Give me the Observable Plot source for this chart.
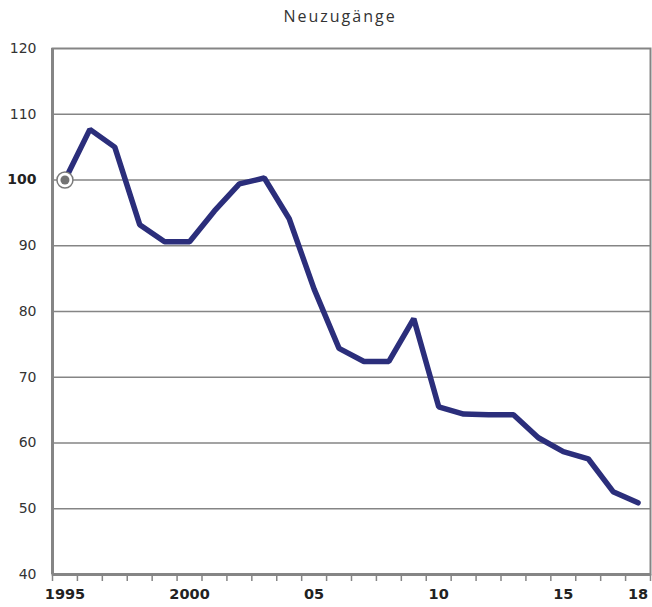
<!DOCTYPE html>
<html>
<head>
<meta charset="utf-8">
<script src="https://cdn.jsdelivr.net/npm/d3@7"></script>
<script src="https://cdn.jsdelivr.net/npm/@observablehq/plot@0.6"></script>
<style>
  body { margin: 0; background: #fff; }
  #wrap { position: relative; width: 652px; height: 607px; }
  #title { position: absolute; left: 0; top: 5px; width: 680px; text-align: center;
           font: 16px "Open Sans", sans-serif; letter-spacing: 2px; color: #333; }
  #chart { position: absolute; left: 0; top: 0; }
</style>
</head>
<body>
<div id="wrap">
  <div id="chart"></div>
  <div id="title">Neuzugänge</div>
</div>
<script>
const years = [1995,1996,1997,1998,1999,2000,2001,2002,2003,2004,2005,2006,2007,2008,2009,2010,2011,2012,2013,2014,2015,2016,2017,2018];
const values = [100,107.7,105.0,93.2,90.6,90.6,95.3,99.4,100.3,94.1,83.4,74.4,72.4,72.4,78.9,65.5,64.4,64.3,64.3,60.8,58.7,57.6,52.6,50.9];
const yTicks = [40,50,60,70,80,90,100,110,120];
const xLabelYears = [1995,2000,2005,2010,2015,2018];
const xLabelTexts = ["1995","2000","05","10","15","18"];

const data = years.map((y, i) => ({year: y, value: values[i]}));
const tickPositions = [...years.map(y => y - 0.5), years[years.length - 1] + 0.5];
const gridValues = yTicks.filter(v => v > 40 && v < 120);
const labelMap = new Map(xLabelYears.map((y, i) => [y, xLabelTexts[i]]));

const grey = "#858585";
const chart = Plot.plot({
  width: 652,
  height: 607,
  marginTop: 48,
  marginLeft: 52,
  marginRight: 2,
  marginBottom: 33,
  style: {fontFamily: "DejaVu Sans", color: "#333", background: "#fff"},
  x: {domain: [years[0] - 0.5, years[years.length - 1] + 0.5], axis: null},
  y: {domain: [40, 120], axis: null},
  marks: [
    Plot.ruleY(gridValues, {stroke: grey, strokeWidth: 1.5}),
    Plot.frame({stroke: grey, strokeWidth: 2}),
    Plot.ruleX([years[0] - 0.5], {stroke: grey, strokeWidth: 3}),
    Plot.ruleY([40], {stroke: grey, strokeWidth: 3}),
    Plot.axisX({ticks: tickPositions, tickSize: 7, tickFormat: () => "", label: null, stroke: grey, strokeWidth: 1.5}),
    Plot.axisX({ticks: xLabelYears, tickSize: 0, tickPadding: 14, tickFormat: d => labelMap.get(d), label: null,
      fontSize: 14.5, fontWeight: "bold", fill: "#222"}),
    Plot.text(yTicks.filter(v => v !== 100), {y: d => d, text: d => String(d), frameAnchor: "left",
      textAnchor: "end", dx: -16, fontSize: 14, fill: "#333"}),
    Plot.text([100], {y: d => d, text: d => String(d), frameAnchor: "left",
      textAnchor: "end", dx: -16, fontSize: 14, fontWeight: "bold", fill: "#222"}),
    Plot.line(data, {x: "year", y: "value", stroke: "#2b2e7b", strokeWidth: 5.5, strokeLinejoin: "miter"}),
    Plot.dot([data[0]], {x: "year", y: "value", r: 8, fill: "#fff", stroke: "#7a7a7a", strokeWidth: 1.5}),
    Plot.dot([data[0]], {x: "year", y: "value", r: 4.5, fill: "#737373"})
  ]
});
document.getElementById("chart").appendChild(chart);
</script>
</body>
</html>
